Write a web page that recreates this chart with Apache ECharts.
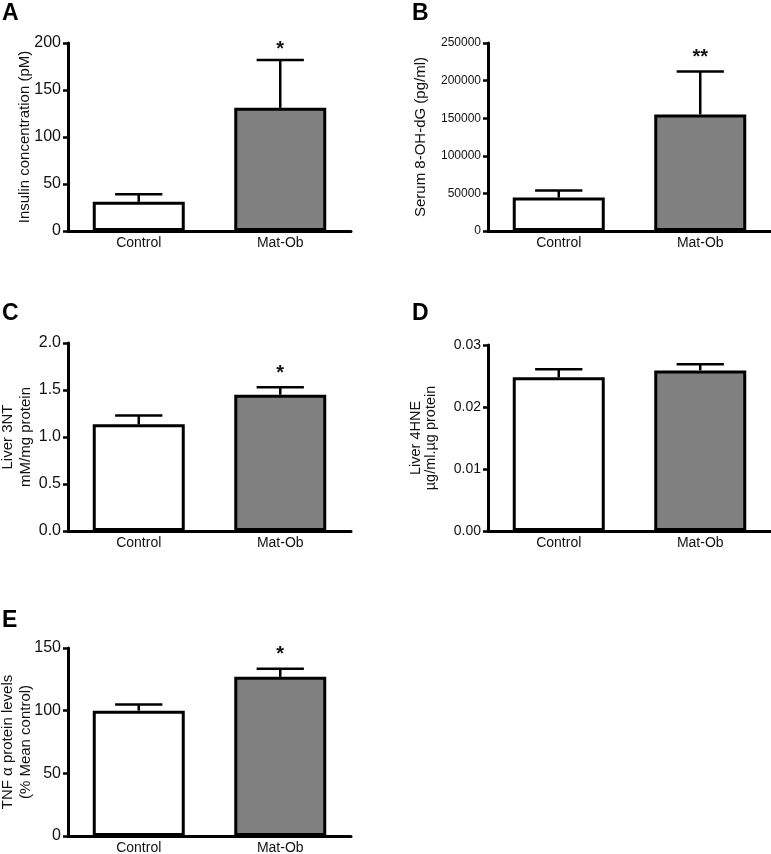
<!DOCTYPE html>
<html>
<head>
<meta charset="utf-8">
<script src="https://cdn.jsdelivr.net/npm/echarts@6/dist/echarts.min.js"></script>
<style>
html,body{margin:0;padding:0;background:#fff;}
#c{width:771px;height:854px;}
</style>
</head>
<body>
<div id="c"></div>
<script>
// ---- data ----
const categories = ['Control', 'Mat-Ob'];

const insulinMean = [31, 131];
const insulinSem = [8, 51];
const insulinSig = ['', '*'];
const insulinSigY = [null, 198];

const ohdgMean = [44500, 155000];
const ohdgSem = [9500, 57000];
const ohdgSig = ['', '**'];
const ohdgSigY = [null, 238000];

const nt3Mean = [1.135, 1.45];
const nt3Sem = [0.095, 0.08];
const nt3Sig = ['', '*'];
const nt3SigY = [null, 1.73];

const hne4Mean = [0.0248, 0.0259];
const hne4Sem = [0.0013, 0.0010];

const tnfMean = [100, 127];
const tnfSem = [5, 6.5];
const tnfSig = ['', '*'];
const tnfSigY = [null, 149];

const barColors = ['#ffffff', '#808080'];

// ---- chart ----
const FONT = '"Liberation Sans", Arial, sans-serif';
const chart = echarts.init(document.getElementById('c'), null, {renderer: 'canvas'});

const panels = [
  {letter:'A', lx:2, ly:2, grid:{left:68, top:43, width:283, height:188}, max:200, interval:50, dec:0, tickFont:16,
   name:'Insulin concentration (pM)', nameGap:34, nameFont:15, nameLH:18, mean:insulinMean, sem:insulinSem, sig:insulinSig, sigY:insulinSigY},
  {letter:'B', lx:412, ly:2, grid:{left:488, top:43, width:283, height:188}, max:250000, interval:50000, dec:0, tickFont:12,
   name:'Serum 8-OH-dG (pg/ml)', nameGap:58, nameFont:15, nameLH:18, mean:ohdgMean, sem:ohdgSem, sig:ohdgSig, sigY:ohdgSigY},
  {letter:'C', lx:2, ly:302, grid:{left:68, top:343, width:283, height:188}, max:2.0, interval:0.5, dec:1, tickFont:16,
   name:'Liver 3NT\nmM/mg protein', nameGap:33, nameFont:15, nameLH:18, mean:nt3Mean, sem:nt3Sem, sig:nt3Sig, sigY:nt3SigY},
  {letter:'D', lx:412, ly:302, grid:{left:488, top:345, width:283, height:186}, max:0.03, interval:0.01, dec:2, tickFont:14,
   name:'Liver 4HNE\nµg/ml.µg protein', nameGap:50, nameFont:14.5, nameLH:15, mean:hne4Mean, sem:hne4Sem, sig:null, sigY:null},
  {letter:'E', lx:2, ly:609, grid:{left:68, top:648, width:283, height:188}, max:150, interval:50, dec:0, tickFont:16,
   name:'TNF α protein levels\n(% Mean control)', nameGap:33, nameFont:15, nameLH:18, mean:tnfMean, sem:tnfSem, sig:tnfSig, sigY:tnfSigY}
];

const grids = [], xAxes = [], yAxes = [], series = [], graphics = [];

panels.forEach((p, i) => {
  grids.push(Object.assign({containLabel:false, outerBoundsMode:'none'}, p.grid));
  xAxes.push({
    type:'category', gridIndex:i, data:categories, boundaryGap:true,
    axisLine:{show:true, lineStyle:{color:'#000', width:3}},
    axisTick:{show:false},
    axisLabel:{color:'#111', fontSize:14, fontFamily:FONT, margin:5},
    splitLine:{show:false}
  });
  yAxes.push({
    type:'value', gridIndex:i, min:0, max:p.max, interval:p.interval,
    name:p.name, nameLocation:'middle', nameGap:p.nameGap, nameRotate:90, nameMoveOverlap:false,
    nameTextStyle:{color:'#111', fontSize:p.nameFont, fontFamily:FONT, lineHeight:p.nameLH},
    axisLine:{show:true, lineStyle:{color:'#000', width:3}},
    axisTick:{show:true, length:5, lineStyle:{color:'#000', width:2.5}},
    axisLabel:{color:'#111', fontSize:p.tickFont, fontFamily:FONT, margin:7,
      formatter: v => Number(v).toFixed(p.dec)},
    splitLine:{show:false}
  });
  series.push({
    type:'bar', xAxisIndex:i, yAxisIndex:i, barWidth:92,
    data:p.mean.map((v, k) => ({value:v, itemStyle:{color:barColors[k]}})),
    itemStyle:{borderColor:'#000', borderWidth:3},
    silent:true, animation:false, z:2
  });
  series.push({
    type:'custom', xAxisIndex:i, yAxisIndex:i, silent:true, animation:false, z:3,
    data:p.mean.map((v, k) => [k, v, v + p.sem[k]]),
    renderItem:(params, api) => {
      const base = api.coord([api.value(0), api.value(1)]);
      const top = api.coord([api.value(0), api.value(2)]);
      const half = api.size([1, 0])[0] * 0.167;
      const st = {stroke:'#000', lineWidth:2.5};
      return {type:'group', children:[
        {type:'line', shape:{x1:base[0], y1:base[1], x2:top[0], y2:top[1]}, style:st},
        {type:'line', shape:{x1:top[0]-half, y1:top[1], x2:top[0]+half, y2:top[1]}, style:st}
      ]};
    }
  });
  if (p.sig) {
    series.push({
      type:'custom', xAxisIndex:i, yAxisIndex:i, silent:true, animation:false, z:4,
      data:p.sigY.map((y, k) => [k, y]).filter(d => d[1] !== null),
      renderItem:(params, api) => {
        const pt = api.coord([api.value(0), api.value(1)]);
        const txt = p.sig[api.value(0)];
        return {type:'text', style:{x:pt[0], y:pt[1]+5, text:txt, fill:'#111',
          font:'bold 20px ' + FONT, textAlign:'center', textVerticalAlign:'middle'}};
      }
    });
  }
  graphics.push({type:'text', left:p.lx, top:p.ly,
    style:{text:p.letter, fill:'#000', font:'bold 23px ' + FONT}});
});

chart.setOption({
  animation:false,
  backgroundColor:'#fff',
  grid:grids, xAxis:xAxes, yAxis:yAxes, series:series, graphic:graphics
});
</script>
</body>
</html>
